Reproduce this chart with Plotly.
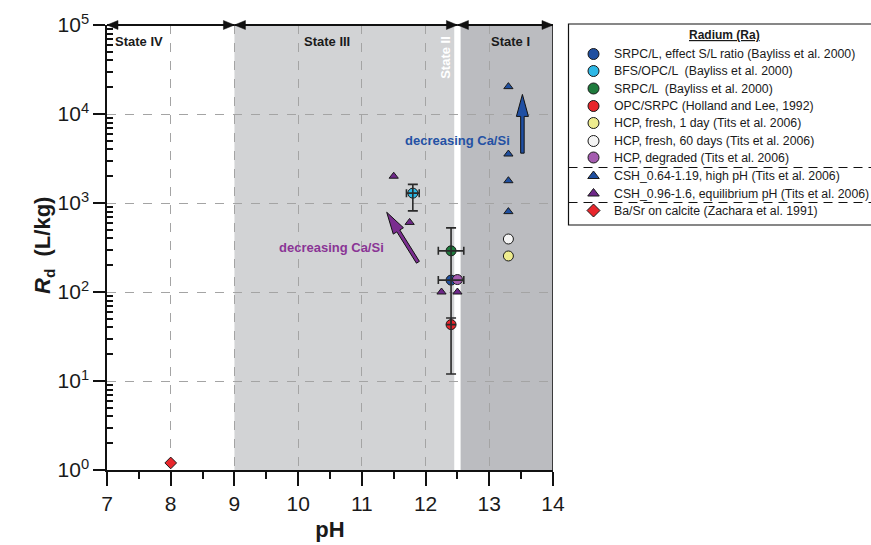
import math
import plotly.graph_objects as go

# ---- Radium sorption data (pH, Rd in L/kg) ----
srpc_sl_ph = [12.4]
srpc_sl_rd = [136]
srpc_sl_ph_err = [0.2]
srpc_sl_rd_plus = [389]
srpc_sl_rd_minus = [124]

bfs_ph = [11.8]
bfs_rd = [1290]
bfs_ph_err = [0.1]
bfs_rd_plus = [330]
bfs_rd_minus = [475]

srpc_ph = [12.4]
srpc_rd = [290]
srpc_ph_err = [0.2]

opc_ph = [12.4]
opc_rd = [43]
opc_rd_plus = [8]

hcp_1d_ph = [13.3]
hcp_1d_rd = [254]

hcp_60d_ph = [13.3]
hcp_60d_rd = [394]

hcp_deg_ph = [12.5]
hcp_deg_rd = [138]

csh_high_ph = [13.3, 13.3, 13.3, 13.3]
csh_high_rd = [20300, 3550, 1780, 800]

csh_eq_ph = [11.5, 11.75, 12.25, 12.5]
csh_eq_rd = [2000, 605, 100, 100]

calcite_ph = [8.0]
calcite_rd = [1.2]

y_tick_vals = [1, 10, 100, 1000, 10000, 100000]
y_tick_text = ["10<sup>0</sup>", "10<sup>1</sup>", "10<sup>2</sup>",
               "10<sup>3</sup>", "10<sup>4</sup>", "10<sup>5</sup>"]

FONT = "Liberation Sans, Arial, sans-serif"
EDGE = dict(color="#1a1a1a", width=1)
ERR_COLOR = "#2a2a2a"

# series styling: label, values, colour, symbol, size (also used for the key box)
series = [
    ("SRPC/L, effect S/L ratio (Bayliss et al. 2000)", srpc_sl_ph, srpc_sl_rd, "#1f4fa0", "circle", 10),
    ("BFS/OPC/L  (Bayliss et al. 2000)", bfs_ph, bfs_rd, "#2db8e6", "circle", 10),
    ("SRPC/L  (Bayliss et al. 2000)", srpc_ph, srpc_rd, "#1e7b3c", "circle", 10),
    ("OPC/SRPC (Holland and Lee, 1992)", opc_ph, opc_rd, "#e8262c", "circle", 10),
    ("HCP, fresh, 1 day (Tits et al. 2006)", hcp_1d_ph, hcp_1d_rd, "#eeec8e", "circle", 10),
    ("HCP, fresh, 60 days (Tits et al. 2006)", hcp_60d_ph, hcp_60d_rd, "#f4f4f4", "circle", 10),
    ("HCP, degraded (Tits et al. 2006)", hcp_deg_ph, hcp_deg_rd, "#a45caf", "circle", 10),
    ("CSH_0.64-1.19, high pH (Tits et al. 2006)", csh_high_ph, csh_high_rd, "#1f4fa0", "triangle-up", 8),
    ("CSH_0.96-1.6, equilibrium pH (Tits et al. 2006)", csh_eq_ph, csh_eq_rd, "#6e2789", "triangle-up", 8),
    ("Ba/Sr on calcite (Zachara et al. 1991)", calcite_ph, calcite_rd, "#e8262c", "diamond", 9),
]

# ---- page geometry (pixels) ----
FIG_W, FIG_H = 871, 545
ML, MT, MB = 107, 25, 75
PLOT_W = 446.0                      # width of the pH axis
PAPER_W = FIG_W - ML                # paper spans to the right page edge
PAPER_H = FIG_H - MT - MB
X0, X1, Y0, Y1 = 7.0, 14.0, 0.0, 5.0

fig = go.Figure()

for name, xs, ys, color, symbol, size in series:
    fig.add_trace(go.Scatter(
        x=xs, y=ys, mode="markers", name=name, showlegend=False,
        marker=dict(color=color, symbol=symbol, size=size, line=EDGE),
    ))


def errs(x, y, ex=None, ey_plus=None, ey_minus=None):
    kw = {}
    if ex is not None:
        kw["error_x"] = dict(type="data", array=ex, symmetric=True,
                             color=ERR_COLOR, thickness=1.6, width=4)
    if ey_plus is not None:
        kw["error_y"] = dict(type="data", array=ey_plus,
                             arrayminus=ey_minus if ey_minus is not None else [0] * len(ey_plus),
                             symmetric=False, color=ERR_COLOR, thickness=1.6, width=5)
    fig.add_trace(go.Scatter(x=x, y=y, mode="markers", showlegend=False,
                             hoverinfo="skip", marker=dict(size=1, opacity=0), **kw))


# error bars drawn over the symbols
errs(srpc_sl_ph, srpc_sl_rd, srpc_sl_ph_err, srpc_sl_rd_plus, srpc_sl_rd_minus)
errs(bfs_ph, bfs_rd, bfs_ph_err, bfs_rd_plus, bfs_rd_minus)
errs(srpc_ph, srpc_rd, srpc_ph_err)
errs(opc_ph, opc_rd, None, opc_rd_plus)


# ---- helpers: frame pixels (origin bottom-left of the pH/Rd frame) -> paper ----
def to_px(ph, lg):
    return ((ph - X0) / (X1 - X0) * PLOT_W, (lg - Y0) / (Y1 - Y0) * PAPER_H)


def page_to_paper(px, py):
    """page pixel (from top-left of the page) -> paper coords"""
    return (px - ML) / PAPER_W, (MT + PAPER_H - py) / PAPER_H


def path_from_px(points):
    s = ""
    for i, (px, py) in enumerate(points):
        s += ("M" if i == 0 else "L") + f"{px / PAPER_W:.5f},{py / PAPER_H:.5f} "
    return s + "Z"


def head_points(tip, tail, length, width):
    dx, dy = tip[0] - tail[0], tip[1] - tail[1]
    n = math.hypot(dx, dy)
    ux, uy = dx / n, dy / n
    bx, by = tip[0] - ux * length, tip[1] - uy * length
    nx, ny = -uy, ux
    return [tip, (bx + nx * width / 2, by + ny * width / 2),
            (bx - nx * width / 2, by - ny * width / 2)]


def block_arrow(tail_d, tip_d, color, shaft=3.5, hlen=22, hwid=12):
    tail = to_px(*tail_d)
    tip = to_px(*tip_d)
    dx, dy = tip[0] - tail[0], tip[1] - tail[1]
    n = math.hypot(dx, dy)
    ux, uy = dx / n, dy / n
    nx, ny = -uy, ux
    bx, by = tip[0] - ux * hlen, tip[1] - uy * hlen
    s = shaft / 2
    poly = [(tail[0] + nx * s, tail[1] + ny * s), (bx + nx * s, by + ny * s),
            (bx + nx * hwid / 2, by + ny * hwid / 2), tip,
            (bx - nx * hwid / 2, by - ny * hwid / 2), (bx - nx * s, by - ny * s),
            (tail[0] - nx * s, tail[1] - ny * s)]
    fig.add_shape(type="path", xref="paper", yref="paper", path=path_from_px(poly),
                  fillcolor=color, line=dict(color="#111", width=1), layer="above")


def span_arrow(ph_a, ph_b, lg):
    a = to_px(ph_a, lg)
    b = to_px(ph_b, lg)
    fig.add_shape(type="line", xref="paper", yref="paper",
                  x0=a[0] / PAPER_W, y0=a[1] / PAPER_H, x1=b[0] / PAPER_W, y1=b[1] / PAPER_H,
                  line=dict(color="#111", width=2), layer="above")
    for tip, tail in ((a, b), (b, a)):
        fig.add_shape(type="path", xref="paper", yref="paper",
                      path=path_from_px(head_points(tip, tail, 11, 9)),
                      fillcolor="#111", line=dict(color="#111", width=0.5), layer="above")


# shaded state regions
fig.add_shape(type="rect", xref="x", yref="paper", x0=9, x1=12.45, y0=0, y1=1,
              fillcolor="#d2d3d5", line=dict(width=0), layer="below")
fig.add_shape(type="rect", xref="x", yref="paper", x0=12.55, x1=14, y0=0, y1=1,
              fillcolor="#bbbcc0", line=dict(width=0), layer="below")

# state spans along the top
span_arrow(7, 9, 5)
span_arrow(9, 12.5, 5)
span_arrow(12.5, 14, 5)

# trend arrows
block_arrow((13.52, 3.56), (13.52, 4.22), "#1f4fa3")
block_arrow((11.88, 2.334), (11.39, 2.896), "#7a2d8f")

# right border of the plotting frame
fig.add_shape(type="line", xref="x", yref="paper", x0=14, x1=14, y0=0, y1=1,
              line=dict(color="#111", width=1.5), layer="above")

ann_font = dict(family=FONT, size=13, color="#1a1a1a")
for txt, xv in (("<b>State IV</b>", 7.5), ("<b>State III</b>", 10.45), ("<b>State I</b>", 13.33)):
    fig.add_annotation(x=xv, y=0.962, xref="x", yref="paper", text=txt,
                       showarrow=False, font=ann_font, yanchor="middle")
fig.add_annotation(x=12.31, y=0.927, xref="x", yref="paper", text="<b>State II</b>",
                   textangle=-90, showarrow=False, yanchor="middle",
                   font=dict(family=FONT, size=13, color="white"))
fig.add_annotation(x=12.5, y=0.762, xref="x", yref="paper", text="<b>decreasing Ca/Si</b>",
                   showarrow=False, font=dict(family=FONT, size=13, color="#2451a4"))
fig.add_annotation(x=10.53, y=0.499, xref="x", yref="paper", text="<b>decreasing Ca/Si</b>",
                   showarrow=False, font=dict(family=FONT, size=13, color="#8a3595"))

# y-axis title
tx, ty = page_to_paper(44, 246)
fig.add_annotation(x=tx, y=ty, xref="paper", yref="paper",
                   text="<b><i>R</i><sub>d</sub>  (L/kg)</b>", textangle=-90,
                   showarrow=False, xanchor="center", yanchor="middle",
                   font=dict(family=FONT, size=22, color="#1a1a1a"))

# ---- key box (own pixel-scaled axes x2 / y2 to the right of the frame) ----
KEY_LEFT, KEY_RIGHT, KEY_TOP, KEY_BOTTOM = 568.5, 874, 24, 225
key_rows = [54, 71, 88.5, 106, 123, 141, 157.5, 176, 193.5, 210.5]
key_marker_x = 593.5
key_text_x = 611.5
key_separators = [167.5, 202.5]

bx0, by0 = page_to_paper(KEY_LEFT, KEY_BOTTOM)
bx1, by1 = page_to_paper(KEY_RIGHT, KEY_TOP)
fig.add_shape(type="rect", xref="paper", yref="paper", x0=bx0, x1=bx1, y0=by0, y1=by1,
              line=dict(color="#111", width=1.2), fillcolor="white", layer="below")
for sy in key_separators:
    sx0, syp = page_to_paper(KEY_LEFT, sy)
    sx1, _ = page_to_paper(FIG_W, sy)
    fig.add_shape(type="line", xref="paper", yref="paper", x0=sx0, x1=sx1, y0=syp, y1=syp,
                  line=dict(color="#111", width=1.1, dash="9px,6px"), layer="above")

for (name, _, _, color, symbol, size), ry in zip(series, key_rows):
    fig.add_trace(go.Scatter(
        x=[key_marker_x], y=[ry], xaxis="x2", yaxis="y2", mode="markers",
        showlegend=False, hoverinfo="skip", cliponaxis=False,
        marker=dict(color=color, symbol=symbol, size=max(size, 9) + 1, line=EDGE),
    ))
    fig.add_annotation(x=key_text_x, y=ry, xref="x2", yref="y2", text=name,
                       xanchor="left", yanchor="middle", showarrow=False,
                       font=dict(family=FONT, size=12.3, color="#1a1a1a"))

fig.add_annotation(x=724, y=35, xref="x2", yref="y2", text="<b><u>Radium (Ra)</u></b>",
                   xanchor="center", yanchor="middle", showarrow=False,
                   font=dict(family=FONT, size=12, color="#1a1a1a"))

grid = dict(showgrid=True, gridcolor="#a4a4a4", griddash="dash", gridwidth=1)

fig.update_layout(
    width=FIG_W, height=FIG_H,
    margin=dict(l=ML, r=0, t=MT, b=MB, autoexpand=False),
    paper_bgcolor="white", plot_bgcolor="white",
    font=dict(family=FONT, color="#1a1a1a"),
    showlegend=False,
    xaxis=dict(
        domain=[0, PLOT_W / PAPER_W],
        range=[7, 14], dtick=1, tick0=7, ticks="outside", ticklen=14, tickwidth=1.5,
        tickcolor="#111", showline=True, linecolor="#111", linewidth=1.5,
        tickfont=dict(size=21), zeroline=False, automargin=False,
        minor=dict(dtick=0.5, ticks="outside", ticklen=7, tickcolor="#111", showgrid=False),
        title=dict(text="<b>pH</b>", font=dict(size=22), standoff=8),
        **grid,
    ),
    yaxis=dict(
        type="log", range=[0, 5], tickvals=y_tick_vals, ticktext=y_tick_text,
        ticks="outside", ticklen=12, tickwidth=1.5, tickcolor="#111",
        showline=True, linecolor="#111", linewidth=1.5, tickfont=dict(size=21),
        zeroline=False, automargin=False,
        minor=dict(tickvals=[m * 10 ** k for k in range(5) for m in range(2, 10)],
                   ticks="inside", ticklen=6, tickcolor="#111", showgrid=False),
        **grid,
    ),
    xaxis2=dict(domain=[(KEY_LEFT - 0.5 - ML) / PAPER_W, 1.0], range=[KEY_LEFT - 0.5, FIG_W],
                anchor="y2", visible=False, fixedrange=True, automargin=False),
    yaxis2=dict(domain=[0, 1], range=[MT + PAPER_H, MT], anchor="x2",
                visible=False, fixedrange=True, automargin=False),
)

fig.write_html("out.html")
